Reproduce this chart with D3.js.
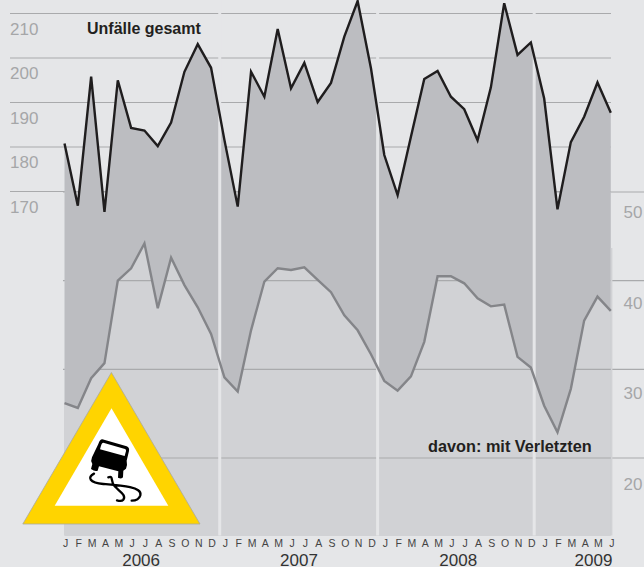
<!DOCTYPE html>
<html lang="de">
<head>
  <meta charset="UTF-8" />
  <title>Unfälle gesamt</title>
  <script src="https://d3js.org/d3.v7.min.js"></script>
  <style>
    html, body { margin: 0; padding: 0; background: #e5e6e8; overflow: hidden; }
    svg { display: block; font-family: 'Liberation Sans', Arial, sans-serif; }
    .grid { stroke: #a9aaac; stroke-width: 1.2; }
    .tick-label { fill: #a5a6a8; font-size: 17px; }
    .month { fill: #444; font-size: 10.5px; text-anchor: middle; }
    .year { fill: #333; font-size: 17px; text-anchor: middle; }
    .title { fill: #231f20; font-size: 16px; font-weight: bold; }
    .title-low { font-size: 16.3px; }
    .line { fill: none; stroke-width: 2.4; stroke-linejoin: miter; }
  </style>
</head>
<body>
  <div id="chart"></div>
  <script>
    const months = ["J","F","M","A","M","J","J","A","S","O","N","D"];
    const years = [2006, 2007, 2008, 2009];
    const yearCenters = [5.75, 17.6, 29.55, 39.7];
    const yearBreaks = [11.65, 23.5, 35.25];

    const total = [
      180.8, 166.8, 195.8, 165.4, 195, 184.3, 183.7, 180.2, 185.5, 196.9, 203.1, 197.8,
      181.6, 166.6, 196.9, 191.3, 206.5, 193.2, 198.9, 190.1, 194.4, 204.8, 212.8, 197.7,
      178.2, 169.2, 182.3, 195.3, 197.1, 191.3, 188.5, 181.5, 193.4, 212.3, 200.7, 203.5,
      190.9, 166, 181.1, 186.8, 194.5, 187.7
    ];
    const injured = [
      26.2, 25.65, 29, 30.7, 40, 41.4, 44.2, 36.9, 42.6, 39.5, 37, 34,
      29.1, 27.5, 34.4, 39.9, 41.4, 41.2, 41.5, 40.1, 38.7, 36.1, 34.4, 31.7,
      28.7, 27.6, 29.2, 33.1, 40.5, 40.5, 39.7, 38, 37.1, 37.3, 31.4, 30.2,
      25.9, 22.9, 27.8, 35.5, 38.2, 36.6
    ];
    const leftTicks = [210, 200, 190, 180, 170];
    const rightTicks = [50, 40, 30, 20];

    const W = 644, H = 567, bottom = 535.5;

    const x = d3.scaleLinear().domain([0, 41]).range([64.5, 610.8]);
    const yTotal = d3.scaleLinear().domain([170, 210]).range([191.5, 13.5]);
    const yInjured = d3.scaleLinear().domain([20, 50]).range([458, 192]);
    // the right-hand numbers drift slightly against their lines in the original
    const yRightLabel = d3.scaleLinear().domain([20, 50]).range([490, 218]);

    const svg = d3.select("#chart").append("svg").attr("width", W).attr("height", H);

    function gridLines(parent) {
      parent.selectAll(".grid-left").data(leftTicks).enter().append("line")
        .attr("class", "grid grid-left")
        .attr("x1", 10).attr("x2", 611)
        .attr("y1", d => yTotal(d)).attr("y2", d => yTotal(d));
      parent.selectAll(".grid-right").data(rightTicks).enter().append("line")
        .attr("class", "grid grid-right")
        .attr("x1", 63).attr("x2", W)
        .attr("y1", d => yInjured(d)).attr("y2", d => yInjured(d));
    }

    const areaTotal = d3.area().x((d, i) => x(i)).y0(bottom).y1(d => yTotal(d));
    const areaInjured = d3.area().x((d, i) => x(i)).y0(bottom).y1(d => yInjured(d));
    const lineTotal = d3.line().x((d, i) => x(i)).y(d => yTotal(d));
    const lineInjured = d3.line().x((d, i) => x(i)).y(d => yInjured(d));

    gridLines(svg.append("g"));

    svg.append("path").datum(total).attr("d", areaTotal).attr("fill", "#bcbdc1");
    svg.append("path").datum(injured).attr("d", areaInjured).attr("fill", "#d1d2d5");
    svg.append("rect").attr("x", x(41)).attr("y", 248).attr("width", 1.6)
      .attr("height", bottom - 248).attr("fill", "#d1d2d5");

    // lines show through the light area only, the dark one hides them
    svg.append("clipPath").attr("id", "light-clip").append("path")
      .datum(injured).attr("d", areaInjured);
    gridLines(svg.append("g").attr("clip-path", "url(#light-clip)"));

    svg.selectAll(".year-break").data(yearBreaks).enter().append("rect")
      .attr("class", "year-break")
      .attr("x", d => x(d) - 1.5).attr("y", 0)
      .attr("width", 3).attr("height", bottom)
      .attr("fill", "#e5e6e8");

    svg.append("path").datum(injured).attr("class", "line")
      .attr("stroke", "#848589").attr("d", lineInjured);
    svg.append("path").datum(total).attr("class", "line")
      .attr("stroke", "#1f1d1e").attr("d", lineTotal);

    svg.selectAll(".left-label").data(leftTicks).enter().append("text")
      .attr("class", "tick-label left-label")
      .attr("x", 10).attr("y", d => yTotal(d) + 21)
      .text(d => d);
    svg.selectAll(".right-label").data(rightTicks).enter().append("text")
      .attr("class", "tick-label right-label")
      .attr("x", 623.5).attr("y", d => yRightLabel(d))
      .text(d => d);

    svg.selectAll(".month").data(total).enter().append("text")
      .attr("class", "month")
      .attr("x", (d, i) => x(i) + 1)
      .attr("y", 547)
      .text((d, i) => months[i % 12]);

    svg.selectAll(".year").data(years).enter().append("text")
      .attr("class", "year")
      .attr("x", (d, i) => x(yearCenters[i]))
      .attr("y", 566)
      .text(d => d);

    svg.append("text").attr("class", "title").attr("x", 87).attr("y", 33.5).text("Unfälle gesamt");
    svg.append("text").attr("class", "title title-low").attr("x", 428).attr("y", 451.5).text("davon: mit Verletzten");

    // warning sign, coordinates taken from a 3x crop
    const sign = svg.append("g");
    sign.append("path")
      .attr("d", "M111.4 372.5L22.8 524H200Z")
      .attr("fill", "#ffd400").attr("stroke", "#a9a9a0").attr("stroke-width", 0.8);
    sign.append("path")
      .attr("d", "M111.5 408.3L54.7 505.7H168.3Z")
      .attr("fill", "#fff");
    const icon = sign.append("g").attr("transform", "translate(20,370) scale(0.3333)");
    icon.append("path")
      .attr("d", "M247 208L320 229Q329 232 327 243L320 272Q323 285 318 296L310 302L309 322Q305 328 294 323L295 304L237 289L233 302Q225 306 213 297L217 282Q211 272 216 262L235 222Q239 208 247 208Z")
      .attr("fill", "#000");
    icon.append("path")
      .attr("d", "M250 218L315 237Q319 239 318 243L314 258L240 238L244 224Q246 218 250 218Z")
      .attr("fill", "#fff");
    icon.append("path")
      .attr("d", "M222 311C201 322 208 338 250 342C300 346 368 350 361 376Q356 392 335 392M265 322C282 316 270 334 284 349C298 364 320 375 310 389Q305 395 291 391")
      .attr("fill", "none").attr("stroke", "#000").attr("stroke-width", 7).attr("stroke-linecap", "round");
  </script>
</body>
</html>
